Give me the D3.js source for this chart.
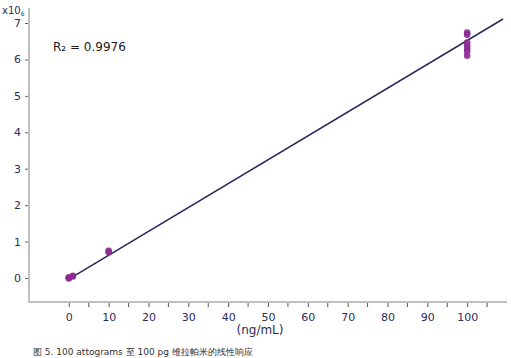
<!DOCTYPE html>
<html><head><meta charset="utf-8">
<script src="https://cdn.jsdelivr.net/npm/d3@7/dist/d3.min.js"></script>
<style>body{margin:0;background:#fff}svg{display:block}text{font-family:"DejaVu Sans",Verdana,sans-serif}</style>
</head><body><svg id="c" width="511" height="358"></svg>
<script>
const xTicks = [0,10,20,30,40,50,60,70,80,90,100];
const xMinor = [5,15,25,35,45,55,65,75,85,95,105];
const yTicks = [0,1,2,3,4,5,6,7];
const ptX = [0,0,0,1,1,10,10,100,100,100,100,100,100,100];
const ptY = [-0.01,0.0,0.02,0.04,0.06,0.71,0.75,6.1,6.22,6.3,6.38,6.46,6.68,6.74];
const fitSlope = 0.0655, fitIntercept = -0.03, fitX = [0,109];
const rLabel = "R₂ = 0.9976";
const xTitle = "(ng/mL)";
const caption = "图 5. 100 attograms 至 100 pg 维拉帕米的线性响应";

const svg = d3.select("#c");
const x = d3.scaleLinear().domain([-10,110]).range([29,507]);
const y = d3.scaleLinear().domain([0,7]).range([278,23]);
const axisY = 302, topY = 8;
const navy = "#2b2b5e";

// axes lines
svg.append("line").attr("x1",x(-10)).attr("x2",x(-10)).attr("y1",topY).attr("y2",axisY+1)
  .attr("stroke","#c0c0c0").attr("stroke-width",2);
svg.append("line").attr("x1",x(-10)).attr("x2",507).attr("y1",axisY).attr("y2",axisY)
  .attr("stroke","#c0c0c0").attr("stroke-width",2);

// y axis ticks
const ya = svg.append("g").attr("transform",`translate(${x(-10)-1},0)`)
  .call(d3.axisLeft(y).tickValues(yTicks).tickSize(3).tickPadding(4).tickFormat(d3.format("d")));
ya.select(".domain").remove();
ya.selectAll("line").attr("stroke","#666");
ya.selectAll("text").attr("font-size",11).attr("fill",navy).attr("font-family","DejaVu Sans");

// x axis
const xa = svg.append("g").attr("transform",`translate(0,${axisY+1})`)
  .call(d3.axisBottom(x).tickValues(xTicks).tickSize(4).tickPadding(6).tickFormat(d3.format("d")));
xa.select(".domain").remove();
xa.selectAll("line").attr("stroke","#555");
xa.selectAll("text").attr("font-size",11).attr("fill",navy).attr("font-family","DejaVu Sans");
svg.append("g").selectAll("line").data(xMinor).join("line")
  .attr("x1",d=>x(d)).attr("x2",d=>x(d)).attr("y1",axisY+1).attr("y2",axisY+5).attr("stroke","#555");

// fit line
svg.append("line").attr("x1",x(fitX[0])).attr("y1",y(fitIntercept+fitSlope*fitX[0]))
  .attr("x2",x(fitX[1])).attr("y2",y(fitIntercept+fitSlope*fitX[1]))
  .attr("stroke",navy).attr("stroke-width",1.6);

// points
svg.append("g").selectAll("circle").data(ptX).join("circle")
  .attr("cx",d=>x(d)).attr("cy",(d,i)=>y(ptY[i])).attr("r",3.3)
  .attr("fill","#8c2a92").attr("fill-opacity",0.9);

// labels
const mult = svg.append("text").attr("x",2).attr("y",14).attr("font-size",10).attr("fill",navy);
mult.append("tspan").text("x10");
mult.append("tspan").attr("font-size",6).attr("dy",2).text("6");

svg.append("text").attr("x",53).attr("y",51).attr("font-size",12).attr("fill","#222").text(rLabel);
svg.append("text").attr("x",260).attr("y",334).attr("text-anchor","middle").attr("font-size",12).attr("fill",navy).text(xTitle);
svg.append("text").attr("x",33).attr("y",355).attr("font-size",9).attr("fill","#333")
  .attr("font-family","'Noto Sans CJK SC','DejaVu Sans',sans-serif").text(caption);
</script></body></html>
